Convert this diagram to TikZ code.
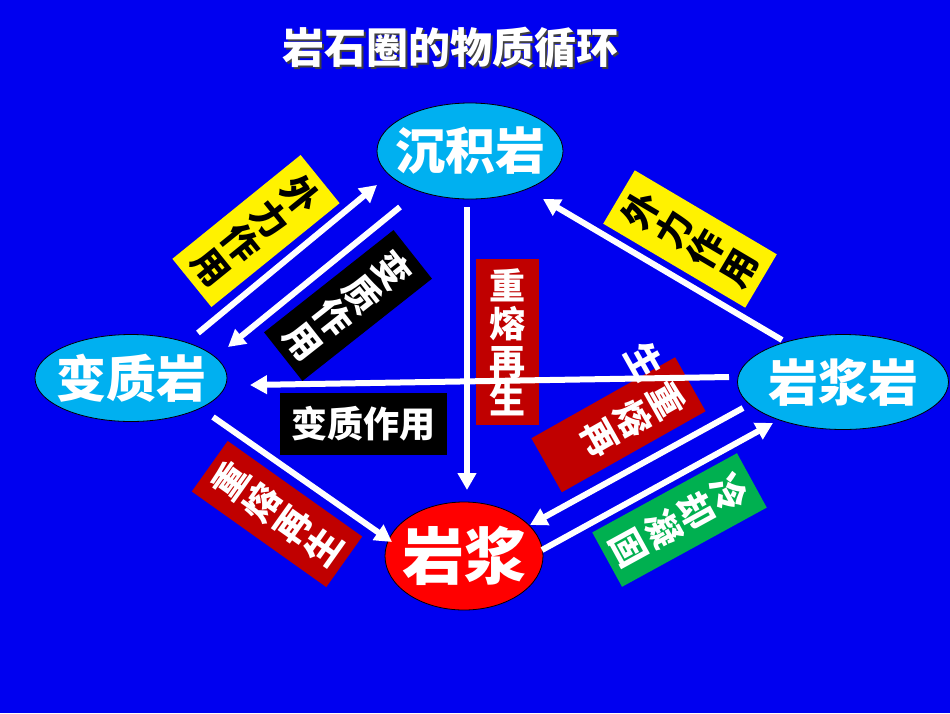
\documentclass[tikz,border=0pt]{standalone}
\usepackage{fontspec}
\newfontfamily\cjk{Noto Sans CJK SC}
\usetikzlibrary{shapes.geometric,arrows.meta}
\definecolor{bgblue}{RGB}{0,0,240}
\definecolor{rockcyan}{RGB}{0,176,240}
\definecolor{labred}{RGB}{192,0,0}
\definecolor{labgreen}{RGB}{0,176,80}
\begin{document}
\begin{tikzpicture}[x=1pt,y=-1pt,
  rock/.style={ellipse, draw=black, line width=0.8pt, fill=rockcyan, text=white, inner sep=0pt,
    font=\cjk\bfseries\fontsize{50}{50}\selectfont},
  arr/.style={draw=white, line width=6pt, -{Triangle[length=17pt,width=18pt]}},
  lab/.style={rectangle, inner sep=0pt, minimum width=62pt, minimum height=165pt, align=center,
    text=white, font=\cjk\bfseries\fontsize{36}{38}\selectfont},
  labtext/.style={inner sep=0pt, align=center, text=white, font=\cjk\bfseries\fontsize{36}{38}\selectfont},
  ttl/.style={inner sep=0pt, font=\cjk\bfseries\fontsize{42}{42}\selectfont}
]
\fill[bgblue] (0,0) rectangle (950,713);
\useasboundingbox (0,0) rectangle (950,713);

% title
\node[ttl, text=black!75] (titleshadow) at (452,50) {岩石圈的物质循环};
\node[ttl, text=white] (title) at (450,48) {岩石圈的物质循环};

% rocks
\node[rock, minimum width=186pt, minimum height=96pt] (cj) at (470,151) {\makebox[0pt]{沉积岩}};
\node[rock, minimum width=192pt, minimum height=87pt] (bz) at (131,378) {\makebox[0pt]{变质岩}};
\node[rock, minimum width=211pt, minimum height=95pt] (yj) at (843,382) {\makebox[0pt]{岩浆岩}};
\node[rock, fill=red, minimum width=158pt, minimum height=108pt,
  font=\cjk\bfseries\fontsize{62}{62}\selectfont] (mg) at (464,556) {\makebox[0pt]{岩浆}};

% labels
\node[lab, fill=yellow, text=black, rotate=-51] (la) at (256,231) {外\\力\\作\\用};
\node[lab, fill=black, rotate=-51.7] (lb) at (348,305.5) {变\\质\\作\\用};
\node[rectangle, inner sep=0pt, fill=black, minimum width=167pt, minimum height=62pt, text=white,
  font=\cjk\bfseries\fontsize{36}{36}\selectfont] (lc) at (363.5,424) {变质作用};
\node[lab, fill=labred, minimum width=63pt, minimum height=166pt] (ld) at (507.5,342) {重\\熔\\再\\生};
\begin{scope}[shift={(618.5,424.75)}, rotate=-60.6]
  \node[lab, fill=labred, rotate=-60.6] (le) at (0,0) {};
  \node[labtext, rotate=-60.6] (le1) at (2,-16) {重\\熔\\再};
  \node[labtext, rotate=-60.6] (le2) at (-42,-54) {生};
\end{scope}
\node[lab, fill=labred, rotate=54.6] (lf) at (277,514) {重\\熔\\再\\生};
\node[lab, fill=labgreen, rotate=-61.3] (lg) at (679.5,520) {冷\\却\\凝\\固};
\node[lab, fill=yellow, text=black, rotate=59.4] (lh) at (690,239) {外\\力\\作\\用};

% connector end points
\coordinate (bz2cjA) at (198,333);   \coordinate (bz2cjB) at (377,185);
\coordinate (cj2bzA) at (400,207);   \coordinate (cj2bzB) at (228,347);
\coordinate (yj2cjA) at (782,340);   \coordinate (yj2cjB) at (543,199);
\coordinate (yj2bzA) at (729,377);   \coordinate (yj2bzB) at (250,385);
\coordinate (cj2mgA) at (467,207);   \coordinate (cj2mgB) at (467,490);
\coordinate (bz2mgA) at (213,417);   \coordinate (bz2mgB) at (392,542);
\coordinate (yj2mgA) at (743,408);   \coordinate (yj2mgB) at (530,525);
\coordinate (mg2yjA) at (542,550);   \coordinate (mg2yjB) at (773,423);

% connectors
\draw[arr] (bz2cjA) -- (bz2cjB);
\draw[arr] (cj2bzA) -- (cj2bzB);
\draw[arr] (yj2cjA) -- (yj2cjB);
\draw[arr] (yj2bzA) -- (yj2bzB);
\draw[arr] (cj2mgA) -- (cj2mgB);
\draw[arr] (bz2mgA) -- (bz2mgB);
\draw[arr] (yj2mgA) -- (yj2mgB);
\draw[arr] (mg2yjA) -- (mg2yjB);
\end{tikzpicture}
\end{document}
